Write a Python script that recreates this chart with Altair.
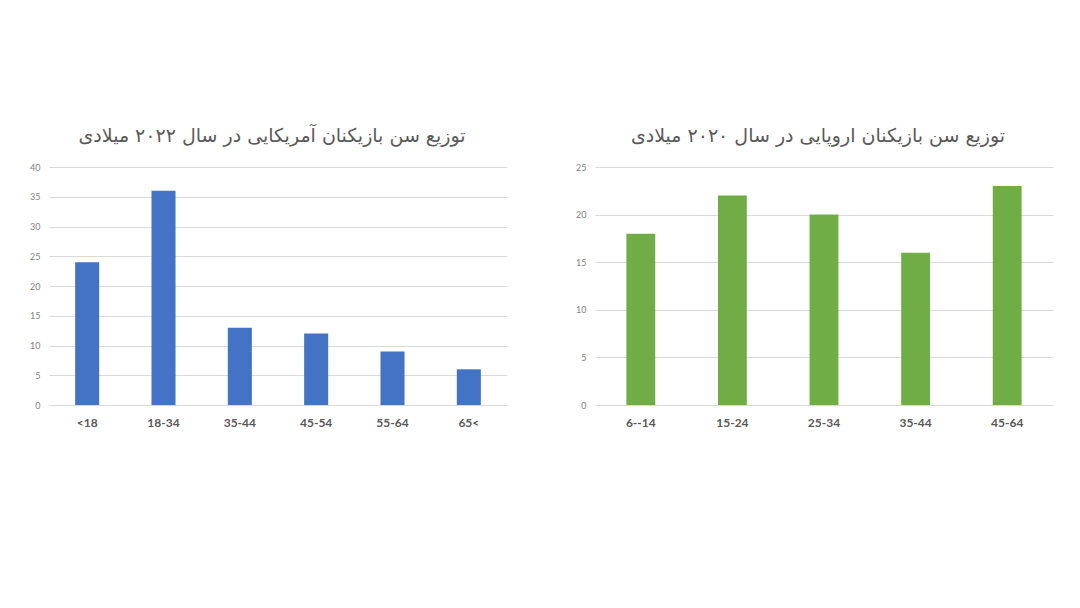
import altair as alt
import pandas as pd

us_categories = ["<18", "18-34", "35-44", "45-54", "55-64", "65<"]
us_values = [24, 36, 13, 12, 9, 6]
us_title = "توزیع سن بازیکنان آمریکایی در سال ۲۰۲۲ میلادی"

eu_categories = ["6--14", "15-24", "25-34", "35-44", "45-64"]
eu_values = [18, 22, 20, 16, 23]
eu_title = "توزیع سن بازیکنان اروپایی در سال ۲۰۲۰ میلادی"

us_df = pd.DataFrame({"age": us_categories, "value": us_values})
eu_df = pd.DataFrame({"age": eu_categories, "value": eu_values})


def panel(df, cats, title, color, ymax):
    return alt.Chart(df, title=alt.Title(
        title, fontSize=19, font="DejaVu Sans", fontWeight="normal",
        color="#595959", offset=17, anchor="middle", dx=-6)).mark_bar(color=color).encode(
        x=alt.X("age:N", sort=cats, title=None,
                scale=alt.Scale(paddingInner=0.685, paddingOuter=0.3425),
                axis=alt.Axis(labelAngle=0, labelFont="Lato", labelFontWeight="bold",
                              labelFontSize=12, labelColor="#595959", labelPadding=12,
                              ticks=False, domain=True, domainColor="#d9d9d9")),
        y=alt.Y("value:Q", title=None,
                scale=alt.Scale(domain=[0, ymax], nice=False),
                axis=alt.Axis(values=list(range(0, ymax + 1, 5)), labelFont="Lato",
                              labelFontSize=9, labelColor="#7f7f7f", ticks=False,
                              domain=False, gridColor="#d9d9d9", labelPadding=9,
                              minExtent=34)),
    ).properties(width=458, height=238)


left = panel(us_df, us_categories, us_title, "#4472C4", 40)
right = panel(eu_df, eu_categories, eu_title, "#70AD47", 25)

chart = alt.hconcat(left, right, spacing=54).properties(
    padding={"top": 119, "left": 7, "right": 5, "bottom": 5},
    background="white",
).configure_view(strokeWidth=0, stroke="transparent")

chart.save("out.html", embed_options={"renderer": "svg", "actions": False})
